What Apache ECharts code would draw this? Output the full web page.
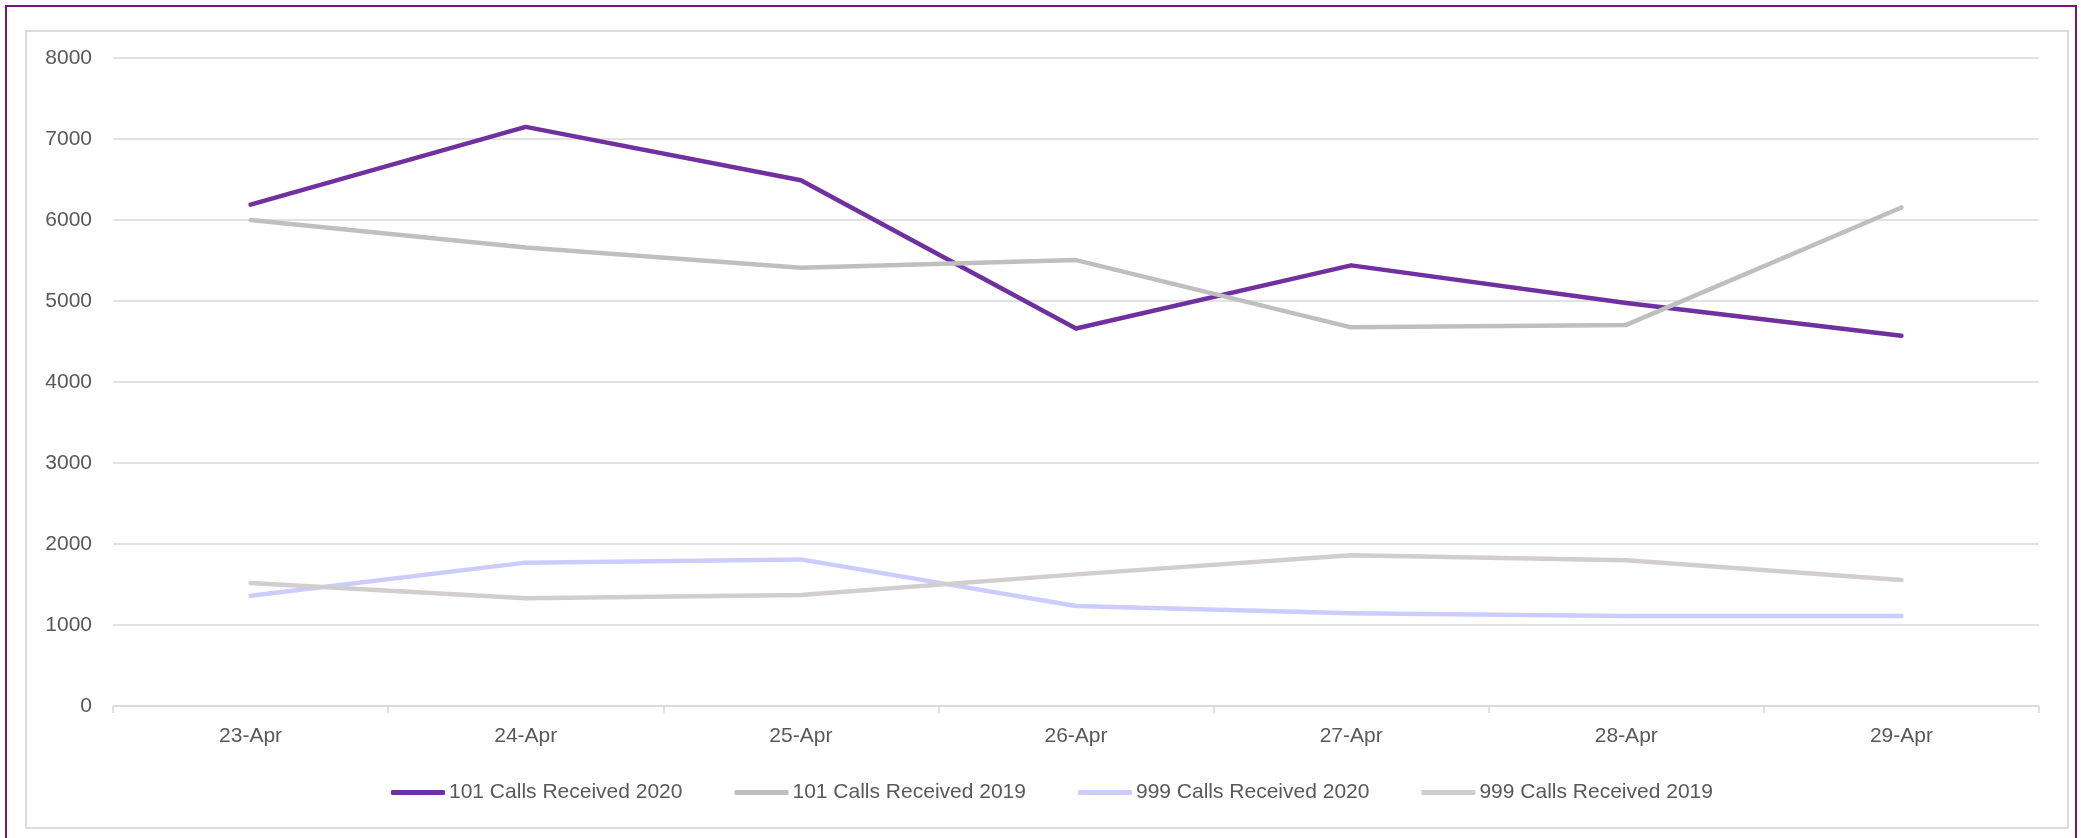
<!DOCTYPE html>
<html>
<head>
<meta charset="utf-8">
<script src="https://cdn.jsdelivr.net/npm/echarts@6/dist/echarts.min.js"></script>
<style>
  html, body { margin: 0; padding: 0; background: #fff; overflow: hidden; }
  #frame {
    position: absolute; left: 5px; top: 5px; width: 2072px; height: 900px;
    border: 2px solid #741a72; box-sizing: border-box;
  }
  #inner {
    position: absolute; left: 25px; top: 30px; width: 2044px; height: 799px;
    border: 2px solid #dcdcdc; box-sizing: border-box;
  }
  #chart { position: absolute; left: 0; top: 0; width: 2081px; height: 838px; }
</style>
</head>
<body>
<div id="frame"></div>
<div id="inner"></div>
<div id="chart"></div>
<script>
const days = ['23-Apr', '24-Apr', '25-Apr', '26-Apr', '27-Apr', '28-Apr', '29-Apr'];
const calls101_2020 = [6190, 7150, 6490, 4660, 5440, 4975, 4570];
const calls101_2019 = [6000, 5660, 5410, 5505, 4675, 4705, 6155];
const calls999_2020 = [1360, 1770, 1810, 1235, 1145, 1110, 1110];
const calls999_2019 = [1520, 1330, 1370, 1625, 1860, 1800, 1555];

const font = '"Liberation Sans", Arial, sans-serif';
const textColor = '#595959';

const myChart = echarts.init(document.getElementById('chart'));

const makeLine = (name, data, color) => ({
  name: name,
  type: 'line',
  data: data,
  symbol: 'none',
  lineStyle: { color: color, width: 4.5, cap: 'round', join: 'round' },
  itemStyle: { color: color }
});

const option = {
  animation: false,
  backgroundColor: 'transparent',
  grid: { left: 113, right: 42, top: 58, bottom: 132, containLabel: false },
  legend: {
    left: 386,
    top: 777,
    itemWidth: 54,
    itemHeight: 5,
    itemGap: 52,
    icon: 'roundRect',
    textStyle: { color: textColor, fontSize: 21, fontFamily: font, padding: [0, 0, 0, -1] },
    data: ['101 Calls Received 2020', '101 Calls Received 2019', '999 Calls Received 2020', '999 Calls Received 2019']
  },
  xAxis: {
    type: 'category',
    data: days,
    boundaryGap: true,
    axisLine: { lineStyle: { color: '#d9d9d9', width: 1.5 } },
    axisTick: { show: true, length: 7, lineStyle: { color: '#d9d9d9', width: 1.5 } },
    axisLabel: { color: textColor, fontSize: 21, fontFamily: font, margin: 20 }
  },
  yAxis: {
    type: 'value',
    min: 0,
    max: 8000,
    interval: 1000,
    axisLine: { show: false },
    axisTick: { show: false },
    splitLine: { lineStyle: { color: '#d9d9d9', width: 1.5 } },
    axisLabel: {
      color: textColor, fontSize: 21, fontFamily: font, margin: 21,
      formatter: (v) => String(v)
    }
  },
  series: [
    makeLine('101 Calls Received 2020', calls101_2020, '#7030a0'),
    makeLine('101 Calls Received 2019', calls101_2019, '#bfbfbf'),
    makeLine('999 Calls Received 2020', calls999_2020, '#ccccff'),
    makeLine('999 Calls Received 2019', calls999_2019, '#d0cece')
  ]
};

myChart.setOption(option);
</script>
</body>
</html>
